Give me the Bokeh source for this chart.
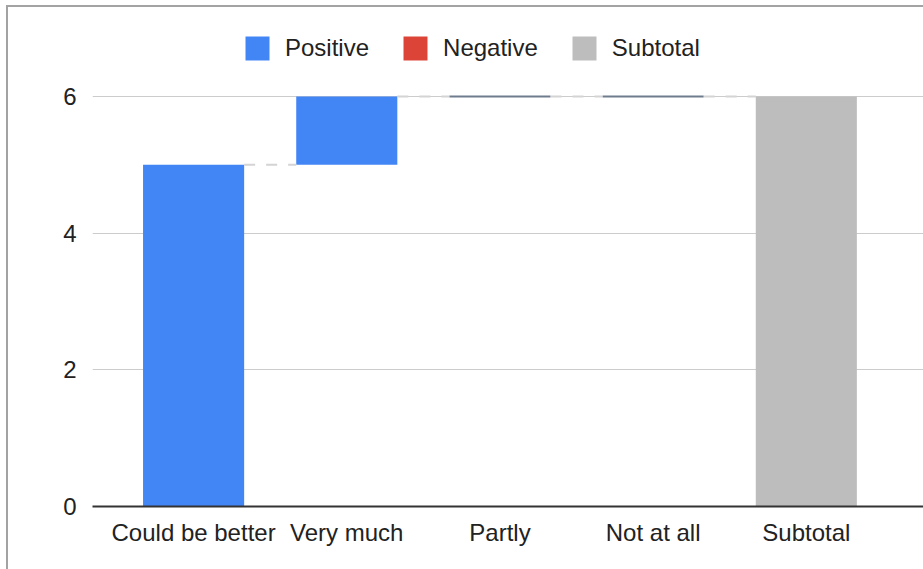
from bokeh.plotting import figure
from bokeh.models import (ColumnDataSource, FixedTicker, Legend, LegendItem, Range1d,
                          InlineStyleSheet)
from bokeh.embed import file_html
from bokeh.resources import INLINE

categories = ["Could be better", "Very much", "Partly", "Not at all"]
values = [5, 1, 0, 0]
subtotal_label = "Subtotal"
y_ticks = [0, 2, 4, 6]

POS = "#4285F4"
NEG = "#DB4437"
SUB = "#BDBDBD"
FONT = "Liberation Sans"
W = 0.66

# running totals
bottoms, tops = [], []
run = 0
for v in values:
    bottoms.append(run)
    run += v
    tops.append(run)
subtotal = run

xs = list(range(len(categories)))
sub_x = len(categories)

# frame spans page y 20..506; 6 units = 410 px
p = figure(frame_width=831, frame_height=486, output_backend="svg", toolbar_location=None,
           x_range=Range1d(-0.66, 4.765), y_range=Range1d(0, 7.112),
           min_border_left=92, min_border_right=0, min_border_top=20, min_border_bottom=63)

pos_src = ColumnDataSource(dict(
    left=[x - W / 2 for x in xs], right=[x + W / 2 for x in xs],
    bottom=bottoms, top=tops,
    lc=[POS if v != 0 else "#6f7c8e" for v in values],
    lw=[0 if v != 0 else 2 for v in values],
))
r_pos = p.quad(left="left", right="right", bottom="bottom", top="top", source=pos_src,
               fill_color=POS, line_color="lc", line_width="lw")

# placeholder renderer for the legend entry (no negative steps in the data)
r_neg = p.quad(left=[0], right=[0], bottom=[0], top=[0], fill_color=NEG, line_color=None)

sub_src = ColumnDataSource(dict(left=[sub_x - W / 2], right=[sub_x + W / 2], bottom=[0], top=[subtotal]))
r_sub = p.quad(left="left", right="right", bottom="bottom", top="top", source=sub_src,
               fill_color=SUB, line_color=None)

# connectors
all_x = xs + [sub_x]
cx0 = [all_x[i] + W / 2 for i in range(len(xs))]
cx1 = [all_x[i + 1] - W / 2 for i in range(len(xs))]
cy = tops
p.segment(x0=cx0, x1=cx1, y0=cy, y1=cy, line_color="#d4d4d4", line_width=2, line_dash="11 11")

legend = Legend(items=[
    LegendItem(label="Positive", renderers=[r_pos]),
    LegendItem(label="Negative", renderers=[r_neg]),
    LegendItem(label="Subtotal", renderers=[r_sub]),
], orientation="horizontal", location=(150, 443))
legend.glyph_width = 30
legend.glyph_height = 30
legend.label_text_font = FONT
legend.label_text_font_size = "24px"
legend.label_text_color = "#222222"
legend.label_standoff = 13
legend.spacing = 31
legend.border_line_color = None
legend.background_fill_alpha = 0
legend.padding = 0
legend.margin = 0
p.add_layout(legend, "center")

p.xaxis.ticker = FixedTicker(ticks=all_x)
p.xaxis.major_label_overrides = {x: lab for x, lab in zip(all_x, categories + [subtotal_label])}
p.xaxis.axis_line_color = "#333333"
p.xaxis.axis_line_width = 2
p.xaxis.major_tick_line_color = None
p.xaxis.minor_tick_line_color = None
p.xaxis.major_label_standoff = 6
p.xaxis.major_label_text_font = FONT
p.xaxis.major_label_text_font_size = "24px"
p.xaxis.major_label_text_color = "#222222"

p.yaxis.ticker = FixedTicker(ticks=y_ticks)
p.yaxis.axis_line_color = None
p.yaxis.major_tick_line_color = None
p.yaxis.minor_tick_line_color = None
p.yaxis.major_label_standoff = 10
p.yaxis.major_label_text_font = FONT
p.yaxis.major_label_text_font_size = "24px"
p.yaxis.major_label_text_color = "#222222"

p.xgrid.grid_line_color = None
p.ygrid.grid_line_color = "#cccccc"
p.ygrid.grid_line_width = 1
p.outline_line_color = None
p.background_fill_color = "white"
p.border_fill_color = "white"

p.stylesheets = [InlineStyleSheet(css=(
    ":host::after{content:'';position:absolute;left:6px;top:5px;right:0;bottom:0;"
    "border-left:2px solid #a3a3a3;border-top:2px solid #a3a3a3;pointer-events:none;}"
))]

open("out.html", "w").write(file_html(p, INLINE))
